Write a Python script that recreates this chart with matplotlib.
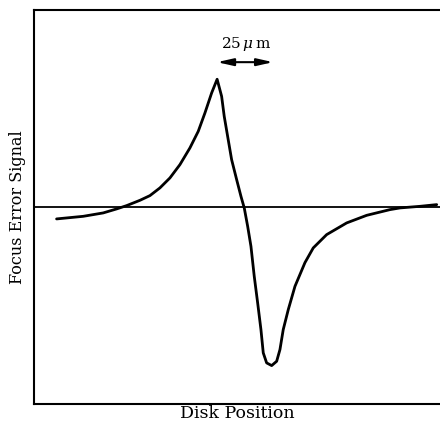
import matplotlib
matplotlib.use('Agg')
import matplotlib.pyplot as plt

# disk position (arbitrary units, 0..100 across the axes)
position = [5.59, 12.14, 17.07, 20.37, 22.83, 26.11, 28.57, 31.03, 33.50, 35.96,
            38.42, 40.47, 42.12, 43.77, 45.12, 46.23, 46.87, 47.71, 48.69, 49.93,
            50.99, 51.80, 52.64, 53.45, 54.26, 55.10, 55.91, 56.48, 57.31, 58.55,
            59.78, 60.59, 61.40, 62.64, 64.29, 66.75, 68.79, 72.09, 77.02, 81.95,
            87.68, 90.15, 95.07, 99.19]
# focus error signal (arbitrary units)
signal = [-0.118, -0.092, -0.058, -0.018, 0.015, 0.068, 0.115, 0.192, 0.292, 0.425,
          0.592, 0.758, 0.942, 1.142, 1.279, 1.108, 0.908, 0.708, 0.475, 0.275,
          0.108, -0.008, -0.192, -0.392, -0.692, -0.958, -1.225, -1.458, -1.558, -1.585,
          -1.542, -1.425, -1.225, -1.025, -0.792, -0.555, -0.408, -0.275, -0.158, -0.082,
          -0.025, -0.008, 0.008, 0.025]

# 25 um scale marker
span_start, span_end = 45.1, 58.9
span_label = '25$\\,\\mu\\,$m'

plt.rcParams['font.family'] = ['DejaVu Serif']
plt.rcParams['mathtext.fontset'] = 'dejavuserif'

fig = plt.figure(figsize=(4.4, 4.24), dpi=100)
ax = fig.add_axes([0.077, 0.047, 0.923, 0.929])

ax.axhline(0.005, color='black', lw=1.3)
ax.plot(position, signal, color='black', lw=2.0,
        solid_joinstyle='round', solid_capstyle='round')

ax.annotate('', xy=(span_start, 1.45), xytext=(span_end, 1.45),
            arrowprops=dict(arrowstyle='<|-|>,head_length=0.8,head_width=0.18',
                            color='black', lw=1.5,
                            mutation_scale=12, shrinkA=0, shrinkB=0))
ax.text((span_start + span_end) / 2 + 0.3, 1.63, span_label, ha='center',
        va='center', fontsize=11)

ax.set_xlim(0, 100)
ax.set_ylim(-1.97, 1.97)
ax.set_xticks([])
ax.set_yticks([])
ax.spines['right'].set_visible(False)
for s in ['left', 'top', 'bottom']:
    ax.spines[s].set_linewidth(1.5)

ax.set_xlabel('Disk Position', fontsize=12.5, labelpad=1)
ax.set_ylabel('Focus Error Signal', fontsize=11.5, labelpad=6)

fig.savefig('out.png', dpi=100)
